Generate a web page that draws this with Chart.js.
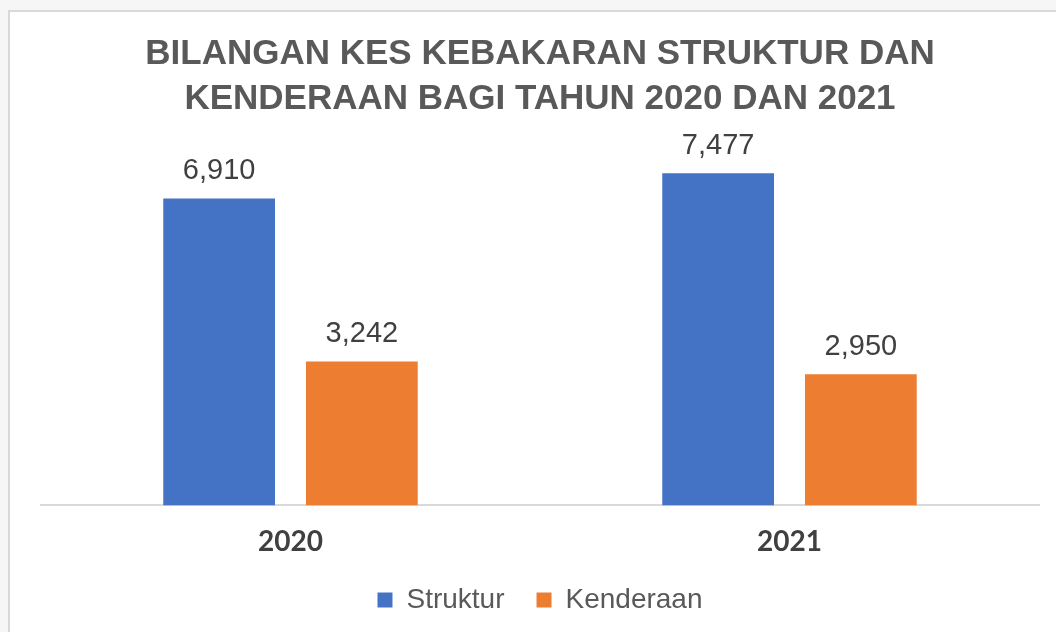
<!DOCTYPE html>
<html>
<head>
<meta charset="utf-8">
<script src="https://cdn.jsdelivr.net/npm/chart.js@4.4.1/dist/chart.umd.min.js"></script>
<style>
  html, body { margin: 0; padding: 0; width: 1056px; height: 632px; overflow: hidden; background: #f6f6f6; }
  #frame { position: absolute; left: 8px; top: 10px; width: 1060px; height: 640px; background: #ffffff; border: 2px solid #d9d9d9; box-sizing: border-box; }
  #wrap { position: absolute; left: 0; top: 0; width: 1056px; height: 632px; }
</style>
</head>
<body>
<div id="frame"></div>
<div id="wrap"><canvas id="c" width="1056" height="632"></canvas></div>
<script>
const categories = ["2020", "2021"];
const seriesNames = ["Struktur", "Kenderaan"];
const strukturValues = [6910, 7477];
const kenderaanValues = [3242, 2950];
const titleLines = ["BILANGAN KES KEBAKARAN STRUKTUR DAN", "KENDERAAN BAGI TAHUN 2020 DAN 2021"];

const valueLabels = {
  id: 'valueLabels',
  afterDatasetsDraw(chart) {
    const ctx = chart.ctx;
    ctx.save();
    ctx.font = '29px "Liberation Sans", Arial, sans-serif';
    ctx.fillStyle = '#404040';
    ctx.textAlign = 'center';
    ctx.textBaseline = 'alphabetic';
    chart.data.datasets.forEach((ds, i) => {
      chart.getDatasetMeta(i).data.forEach((bar, j) => {
        ctx.fillText(ds.data[j].toLocaleString('en-US'), bar.x, bar.y - 19);
      });
    });
    ctx.restore();
  }
};

new Chart(document.getElementById('c'), {
  type: 'bar',
  data: {
    labels: categories,
    datasets: [
      { label: seriesNames[0], data: strukturValues, backgroundColor: '#4472c4', borderWidth: 0 },
      { label: seriesNames[1], data: kenderaanValues, backgroundColor: '#ed7d31', borderWidth: 0 }
    ]
  },
  options: {
    responsive: false,
    animation: false,
    devicePixelRatio: 1,
    categoryPercentage: 0.572,
    barPercentage: 0.783,
    layout: { padding: { left: 41, right: 17, top: 32, bottom: 8 } },
    plugins: {
      title: {
        display: true,
        text: titleLines,
        color: '#595959',
        font: { family: '"Liberation Sans", Arial, sans-serif', size: 35, weight: 'bold', lineHeight: 1.286 },
        padding: { top: 0, bottom: 28 }
      },
      legend: {
        position: 'bottom',
        title: { display: true, text: '', font: { size: 1, lineHeight: 0 }, padding: { top: -25, bottom: 0 } },
        labels: {
          color: '#595959',
          font: { family: '"Liberation Sans", Arial, sans-serif', size: 28 },
          boxWidth: 15, boxHeight: 15, padding: 32
        }
      },
      tooltip: { enabled: false }
    },
    scales: {
      x: {
        grid: { display: false, drawTicks: false },
        border: { display: true, color: '#d9d9d9', width: 2 },
        ticks: { color: '#404040', padding: 20, font: { family: 'Lato, sans-serif', size: 28, weight: 'bold' } }
      },
      y: {
        display: false,
        min: 0,
        max: 8000
      }
    }
  },
  plugins: [valueLabels]
});
</script>
</body>
</html>
